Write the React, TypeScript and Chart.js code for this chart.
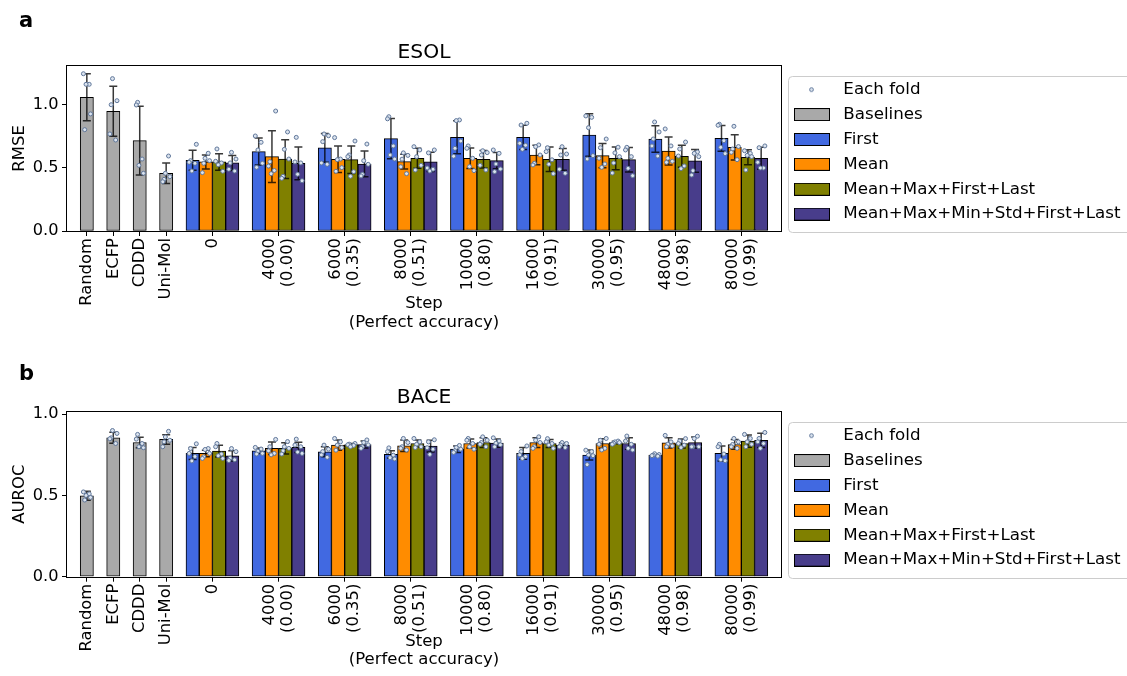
import React, { useEffect, useRef } from "react";
import { Chart, registerables } from "chart.js";

Chart.register(...registerables);

const FONT_FAMILY = "'DejaVu Sans', 'Liberation Sans', Arial, sans-serif";

// ---------------- categories / tick labels ----------------
const baselineNames = ["Random", "ECFP", "CDDD", "Uni-Mol"];
const stepLabels = ["0", "4000", "6000", "8000", "10000", "16000", "30000", "48000", "80000"];
const accuracyLabels = ["", "(0.00)", "(0.35)", "(0.51)", "(0.80)", "(0.91)", "(0.95)", "(0.98)", "(0.99)"];
const methodNames = ["First", "Mean", "Mean+Max+First+Last", "Mean+Max+Min+Std+First+Last"];
const yTickValues = [0, 0.5, 1.0];
const xTitleLines = ["Step", "(Perfect accuracy)"];

// ---------------- ESOL (RMSE) ----------------
const esolBaselineMean = [1.061, 0.95, 0.717, 0.458];
const esolBaselineSd = [0.187, 0.198, 0.272, 0.082];
const esolBaselineFolds = [
  [1.248, 1.164, 1.164, 0.929, 0.804],
  [1.209, 1.034, 1.002, 0.77, 0.722],
  [1.021, 1.0, 0.571, 0.521, 0.458],
  [0.595, 0.458, 0.431, 0.41, 0.391],
];

const esolFirstMean = [0.561, 0.63, 0.659, 0.733, 0.743, 0.743, 0.762, 0.73, 0.735];
const esolFirstSd = [0.079, 0.107, 0.114, 0.159, 0.131, 0.097, 0.168, 0.105, 0.102];
const esolFirstFolds = [
  [0.688, 0.558, 0.545, 0.537, 0.476],
  [0.754, 0.704, 0.643, 0.537, 0.505],
  [0.77, 0.756, 0.709, 0.54, 0.529],
  [0.907, 0.89, 0.675, 0.603, 0.571],
  [0.881, 0.876, 0.714, 0.656, 0.593],
  [0.855, 0.841, 0.696, 0.68, 0.648],
  [0.913, 0.902, 0.82, 0.598, 0.571],
  [0.865, 0.786, 0.73, 0.675, 0.595],
  [0.847, 0.839, 0.717, 0.664, 0.614],
];

const esolMeanMean = [0.548, 0.59, 0.569, 0.55, 0.577, 0.603, 0.598, 0.635, 0.664];
const esolMeanSd = [0.056, 0.206, 0.105, 0.059, 0.081, 0.077, 0.096, 0.111, 0.1];
const esolMeanFolds = [
  [0.617, 0.577, 0.558, 0.537, 0.463],
  [0.952, 0.55, 0.515, 0.48, 0.455],
  [0.741, 0.571, 0.566, 0.503, 0.474],
  [0.62, 0.6, 0.57, 0.51, 0.455],
  [0.675, 0.656, 0.577, 0.511, 0.479],
  [0.683, 0.669, 0.603, 0.537, 0.524],
  [0.73, 0.661, 0.577, 0.532, 0.505],
  [0.81, 0.675, 0.577, 0.553, 0.545],
  [0.831, 0.67, 0.651, 0.624, 0.566],
];

const esolMmflMean = [0.548, 0.571, 0.566, 0.577, 0.569, 0.569, 0.577, 0.593, 0.585];
const esolMmflSd = [0.065, 0.154, 0.109, 0.08, 0.069, 0.097, 0.09, 0.088, 0.06];
const esolMmflFolds = [
  [0.651, 0.553, 0.54, 0.525, 0.474],
  [0.786, 0.648, 0.571, 0.434, 0.418],
  [0.714, 0.603, 0.59, 0.471, 0.434],
  [0.669, 0.643, 0.59, 0.521, 0.484],
  [0.637, 0.622, 0.603, 0.521, 0.484],
  [0.661, 0.63, 0.565, 0.53, 0.455],
  [0.665, 0.62, 0.59, 0.54, 0.46],
  [0.706, 0.651, 0.595, 0.516, 0.495],
  [0.637, 0.616, 0.6, 0.59, 0.484],
];

const esolMmmsflMean = [0.54, 0.537, 0.532, 0.548, 0.558, 0.569, 0.566, 0.556, 0.577];
const esolMmmsflSd = [0.06, 0.13, 0.102, 0.076, 0.064, 0.086, 0.097, 0.09, 0.087];
const esolMmmsflFolds = [
  [0.624, 0.571, 0.54, 0.49, 0.476],
  [0.743, 0.548, 0.54, 0.45, 0.399],
  [0.69, 0.558, 0.529, 0.45, 0.437],
  [0.643, 0.62, 0.5, 0.49, 0.476],
  [0.643, 0.616, 0.532, 0.492, 0.471],
  [0.669, 0.611, 0.603, 0.49, 0.458],
  [0.664, 0.643, 0.59, 0.497, 0.439],
  [0.627, 0.616, 0.59, 0.479, 0.444],
  [0.675, 0.661, 0.545, 0.5, 0.5],
];

// ---------------- BACE (AUROC) ----------------
const baceBaselineMean = [0.498, 0.855, 0.826, 0.845];
const baceBaselineSd = [0.028, 0.034, 0.032, 0.029];
const baceBaselineFolds = [
  [0.522, 0.51, 0.5, 0.488, 0.472],
  [0.9, 0.882, 0.855, 0.849, 0.82],
  [0.876, 0.847, 0.82, 0.8, 0.794],
  [0.895, 0.86, 0.84, 0.83, 0.8],
];

const baceFirstMean = [0.759, 0.775, 0.769, 0.753, 0.785, 0.759, 0.749, 0.749, 0.759];
const baceFirstSd = [0.037, 0.017, 0.031, 0.022, 0.02, 0.036, 0.031, 0.006, 0.046];
const baceFirstFolds = [
  [0.818, 0.789, 0.759, 0.74, 0.713],
  [0.796, 0.786, 0.773, 0.759, 0.755],
  [0.81, 0.785, 0.77, 0.75, 0.735],
  [0.793, 0.77, 0.748, 0.733, 0.725],
  [0.808, 0.795, 0.785, 0.775, 0.765],
  [0.805, 0.77, 0.75, 0.74, 0.728],
  [0.779, 0.77, 0.749, 0.745, 0.69],
  [0.757, 0.752, 0.748, 0.745, 0.742],
  [0.815, 0.8, 0.755, 0.72, 0.714],
];

const baceMeanMean = [0.759, 0.791, 0.81, 0.806, 0.82, 0.826, 0.82, 0.824, 0.814];
const baceMeanSd = [0.02, 0.038, 0.031, 0.035, 0.028, 0.03, 0.03, 0.031, 0.03];
const baceMeanFolds = [
  [0.789, 0.783, 0.759, 0.738, 0.728],
  [0.845, 0.8, 0.775, 0.759, 0.75],
  [0.851, 0.83, 0.81, 0.795, 0.779],
  [0.851, 0.826, 0.8, 0.79, 0.78],
  [0.851, 0.84, 0.82, 0.8, 0.785],
  [0.861, 0.84, 0.826, 0.8, 0.79],
  [0.851, 0.84, 0.815, 0.79, 0.78],
  [0.87, 0.83, 0.816, 0.805, 0.8],
  [0.851, 0.83, 0.814, 0.8, 0.79],
];

const baceMmflMean = [0.773, 0.79, 0.814, 0.82, 0.826, 0.82, 0.826, 0.82, 0.835];
const baceMmflSd = [0.036, 0.034, 0.006, 0.022, 0.03, 0.025, 0.008, 0.028, 0.038];
const baceMmflFolds = [
  [0.82, 0.8, 0.755, 0.745, 0.728],
  [0.832, 0.8, 0.79, 0.775, 0.755],
  [0.82, 0.816, 0.812, 0.808, 0.8],
  [0.851, 0.83, 0.815, 0.8, 0.795],
  [0.861, 0.84, 0.826, 0.815, 0.8],
  [0.85, 0.83, 0.82, 0.81, 0.79],
  [0.835, 0.83, 0.826, 0.822, 0.815],
  [0.85, 0.835, 0.82, 0.81, 0.795],
  [0.876, 0.851, 0.83, 0.815, 0.8],
];

const baceMmmsflMean = [0.744, 0.796, 0.814, 0.804, 0.822, 0.81, 0.82, 0.826, 0.839];
const baceMmmsflSd = [0.031, 0.031, 0.022, 0.036, 0.025, 0.015, 0.035, 0.034, 0.044];
const baceMmmsflFolds = [
  [0.789, 0.77, 0.73, 0.715, 0.72],
  [0.847, 0.81, 0.8, 0.767, 0.759],
  [0.842, 0.826, 0.812, 0.8, 0.79],
  [0.843, 0.83, 0.794, 0.785, 0.753],
  [0.855, 0.835, 0.822, 0.812, 0.8],
  [0.826, 0.82, 0.81, 0.8, 0.795],
  [0.866, 0.835, 0.815, 0.79, 0.78],
  [0.865, 0.85, 0.8, 0.8, 0.8],
  [0.888, 0.851, 0.83, 0.82, 0.79],
];

// ---------------- styles / layout ----------------
const BASELINE_COLOR = "#a9a9a9";
const METHOD_COLORS = ["#4169e1", "#ff8c00", "#808000", "#483d8b"];
const FOLD_FILL = "#dbe3ee";
const FOLD_EDGE = "#60779a";
const METHOD_OFFSETS = [-0.75, -0.25, 0.25, 0.75];
const JITTER = [-0.13, 0.09, -0.03, 0.14, -0.08];
const X_MIN = -0.75;
const X_MAX = 26.25;
const groupCenter = (k: number) => 4.75 + 2.5 * k;

const LEGEND_FONT = 16.7;
const LEGEND_PAD = 8.2;

type PanelSpec = {
  letter: string;
  letterY: number;
  title: string;
  yLabel: string;
  yMax: number;
  padTop: number;
  padBottom: number;
  titlePadBottom: number;
  xAxisHeight: number;
  baseMean: number[];
  baseSd: number[];
  baseFolds: number[][];
  means: number[][];
  sds: number[][];
  folds: number[][][];
};

const ESOL_SPEC: PanelSpec = {
  letter: "a",
  letterY: 27,
  title: "ESOL",
  yLabel: "RMSE",
  yMax: 1.312,
  padTop: 40.3,
  padBottom: 6,
  titlePadBottom: 1,
  xAxisHeight: 101,
  baseMean: esolBaselineMean,
  baseSd: esolBaselineSd,
  baseFolds: esolBaselineFolds,
  means: [esolFirstMean, esolMeanMean, esolMmflMean, esolMmmsflMean],
  sds: [esolFirstSd, esolMeanSd, esolMmflSd, esolMmmsflSd],
  folds: [esolFirstFolds, esolMeanFolds, esolMmflFolds, esolMmmsflFolds],
};

const BACE_SPEC: PanelSpec = {
  letter: "b",
  letterY: 42,
  title: "BACE",
  yLabel: "AUROC",
  yMax: 1.016,
  padTop: 47.3,
  padBottom: 6.3,
  titlePadBottom: 2,
  xAxisHeight: 93,
  baseMean: baceBaselineMean,
  baseSd: baceBaselineSd,
  baseFolds: baceBaselineFolds,
  means: [baceFirstMean, baceMeanMean, baceMmflMean, baceMmmsflMean],
  sds: [baceFirstSd, baceMeanSd, baceMmflSd, baceMmmsflSd],
  folds: [baceFirstFolds, baceMeanFolds, baceMmflFolds, baceMmmsflFolds],
};

function makePatch(fill: string): HTMLCanvasElement {
  const c = document.createElement("canvas");
  c.width = 41;
  c.height = 13;
  const ctx = c.getContext("2d")!;
  ctx.fillStyle = fill;
  ctx.fillRect(0.5, 0.5, 35, 12);
  ctx.strokeStyle = "#000";
  ctx.lineWidth = 1;
  ctx.strokeRect(0.5, 0.5, 35, 12);
  return c;
}

function makeDot(): HTMLCanvasElement {
  const c = document.createElement("canvas");
  c.width = 41;
  c.height = 13;
  const ctx = c.getContext("2d")!;
  ctx.beginPath();
  ctx.arc(17.5, 6.5, 1.9, 0, Math.PI * 2);
  ctx.fillStyle = FOLD_FILL;
  ctx.fill();
  ctx.strokeStyle = FOLD_EDGE;
  ctx.lineWidth = 1;
  ctx.stroke();
  return c;
}

const errorBarPlugin = {
  id: "errorBars",
  afterDatasetDraw(chart: any, args: any) {
    const ds = chart.data.datasets[args.index];
    if (!ds.errors) return;
    const { ctx } = chart;
    const xs = chart.scales.x;
    const ys = chart.scales.y;
    ctx.save();
    ctx.strokeStyle = "rgba(0,0,0,0.78)";
    ctx.lineWidth = 1.5;
    const cap = 4;
    ds.data.forEach((p: any, i: number) => {
      const px = xs.getPixelForValue(p.x);
      const top = ys.getPixelForValue(p.y + ds.errors[i]);
      const bot = ys.getPixelForValue(p.y - ds.errors[i]);
      ctx.beginPath();
      ctx.moveTo(px, top);
      ctx.lineTo(px, bot);
      ctx.moveTo(px - cap, top);
      ctx.lineTo(px + cap, top);
      ctx.moveTo(px - cap, bot);
      ctx.lineTo(px + cap, bot);
      ctx.stroke();
    });
    ctx.restore();
  },
};

function makeDecorPlugin(spec: PanelSpec) {
  return {
    id: "decor",
    beforeDraw(chart: any) {
      const ca = chart.chartArea;
      const ctx = chart.ctx;
      // legend frame
      ctx.save();
      ctx.beginPath();
      ctx.roundRect(788.5, Math.round(ca.top + 10) + 0.5, 345, 156, 4);
      ctx.fillStyle = "rgba(255,255,255,0.8)";
      ctx.fill();
      ctx.strokeStyle = "#cccccc";
      ctx.lineWidth = 1;
      ctx.stroke();
      ctx.restore();
      const lg = chart.legend;
      if (lg) {
        lg.left = 794 - LEGEND_PAD;
        lg.top = ca.top + 24 - LEGEND_PAD - LEGEND_FONT / 2;
        lg.right = chart.width;
        lg.bottom = chart.height;
        lg.width = lg.right - lg.left;
        lg.height = lg.bottom - lg.top;
      }
    },
    afterDatasetsDraw(chart: any) {
      const ca = chart.chartArea;
      const ctx = chart.ctx;
      ctx.save();
      ctx.strokeStyle = "#000";
      ctx.lineWidth = 1;
      const l = Math.round(ca.left) - 0.5;
      const t = Math.round(ca.top) - 0.5;
      const r = Math.round(ca.right) + 0.5;
      const b = Math.round(ca.bottom) + 0.5;
      ctx.strokeRect(l, t, r - l, b - t);
      ctx.restore();
    },
    afterDraw(chart: any) {
      const ctx = chart.ctx;
      ctx.save();
      ctx.fillStyle = "#000";
      ctx.font = `bold 21px ${FONT_FAMILY}`;
      ctx.textBaseline = "alphabetic";
      ctx.textAlign = "left";
      ctx.fillText(spec.letter, 19, spec.letterY);
      ctx.restore();
    },
  };
}

function buildConfig(spec: PanelSpec): any {
  const xTickPositions: number[] = [];
  const xTickLines: string[][] = [];
  baselineNames.forEach((name, i) => {
    xTickPositions.push(i);
    xTickLines.push(["", name]);
  });
  stepLabels.forEach((s, k) => {
    xTickPositions.push(groupCenter(k));
    xTickLines.push(accuracyLabels[k] ? [s, "", accuracyLabels[k]] : ["", s]);
  });

  const foldPoints: { x: number; y: number }[] = [];
  let barIdx = 0;
  spec.baseFolds.forEach((vals, i) => {
    vals.forEach((v, j) => foldPoints.push({ x: i + JITTER[(j + 2 * barIdx) % 5], y: v }));
    barIdx++;
  });
  const methodDatasets = methodNames.map((name, m) => {
    const data = spec.means[m].map((v, k) => ({ x: groupCenter(k) + METHOD_OFFSETS[m], y: v }));
    spec.folds[m].forEach((vals, k) => {
      vals.forEach((v, j) =>
        foldPoints.push({ x: groupCenter(k) + METHOD_OFFSETS[m] + JITTER[(j + 2 * barIdx) % 5], y: v })
      );
      barIdx++;
    });
    return {
      type: "bar",
      label: name,
      data,
      errors: spec.sds[m],
      backgroundColor: METHOD_COLORS[m],
      borderColor: "#000",
      borderWidth: 1,
      borderSkipped: false,
      grouped: false,
      categoryPercentage: 1,
      barPercentage: 1,
    };
  });

  const datasets: any[] = [
    {
      type: "scatter",
      label: "Each fold",
      data: foldPoints,
      pointRadius: 2,
      pointBackgroundColor: FOLD_FILL,
      pointBorderColor: FOLD_EDGE,
      pointBorderWidth: 1,
      pointStyle: "circle",
    },
    {
      type: "bar",
      label: "Baselines",
      data: spec.baseMean.map((v, i) => ({ x: i, y: v })),
      errors: spec.baseSd,
      backgroundColor: BASELINE_COLOR,
      borderColor: "#000",
      borderWidth: 1,
      borderSkipped: false,
      grouped: false,
      categoryPercentage: 1,
      barPercentage: 1,
    },
    ...methodDatasets,
  ];

  const markers = [makeDot(), makePatch(BASELINE_COLOR), ...METHOD_COLORS.map((c) => makePatch(c))];

  return {
    type: "bar",
    data: { datasets },
    options: {
      responsive: false,
      animation: false,
      devicePixelRatio: 1,
      events: [],
      layout: { padding: { left: 0, right: 346, top: spec.padTop, bottom: spec.padBottom } },
      scales: {
        x: {
          type: "linear",
          min: X_MIN,
          max: X_MAX,
          offset: false,
          grid: {
            display: true,
            drawOnChartArea: false,
            drawTicks: true,
            tickLength: 5,
            color: "#000",
            lineWidth: 1,
            offset: false,
          },
          border: { display: false },
          afterBuildTicks: (s: any) => {
            s.ticks = xTickPositions.map((v) => ({ value: v }));
          },
          afterFit: (s: any) => {
            s.height = spec.xAxisHeight;
          },
          ticks: {
            autoSkip: false,
            minRotation: 90,
            maxRotation: 90,
            padding: 2,
            labelOffset: -9,
            color: "#000",
            font: { size: 16.4, lineHeight: "9px", family: FONT_FAMILY },
            callback: (_v: any, i: number) => xTickLines[i],
          },
          title: {
            display: true,
            text: xTitleLines,
            color: "#000",
            font: { size: 16.5, lineHeight: 1.15, family: FONT_FAMILY },
            padding: { top: 0, bottom: 0 },
          },
        },
        y: {
          type: "linear",
          min: 0,
          max: spec.yMax,
          grid: {
            display: true,
            drawOnChartArea: false,
            drawTicks: true,
            tickLength: 5,
            color: "#000",
            lineWidth: 1,
          },
          border: { display: false },
          afterBuildTicks: (s: any) => {
            s.ticks = yTickValues.map((v) => ({ value: v }));
          },
          afterFit: (s: any) => {
            s.width = 67;
          },
          ticks: {
            padding: 3.5,
            color: "#000",
            font: { size: 16.2, family: FONT_FAMILY },
            callback: (v: any) => Number(v).toFixed(1),
          },
          title: {
            display: true,
            text: spec.yLabel,
            color: "#000",
            font: { size: 16.5, family: FONT_FAMILY },
            padding: { top: 9.6, bottom: 0 },
          },
        },
      },
      plugins: {
        tooltip: { enabled: false },
        title: {
          display: true,
          text: spec.title,
          color: "#000",
          fullSize: false,
          font: { size: 20.3, weight: "normal", lineHeight: 1.2, family: FONT_FAMILY },
          padding: { top: 0, bottom: spec.titlePadBottom },
        },
        legend: {
          display: true,
          position: "chartArea",
          align: "start",
          labels: {
            usePointStyle: true,
            pointStyleWidth: 41,
            boxHeight: 13,
            padding: LEGEND_PAD,
            color: "#000",
            font: { size: LEGEND_FONT, family: FONT_FAMILY },
            generateLabels: (chart: any) =>
              chart.data.datasets.map((ds: any, i: number) => ({
                text: ds.label,
                pointStyle: markers[i],
                fillStyle: "rgba(0,0,0,0)",
                strokeStyle: "rgba(0,0,0,0)",
                lineWidth: 0,
                hidden: false,
                datasetIndex: i,
                fontColor: "#000",
              })),
          },
        },
      },
    },
    plugins: [errorBarPlugin, makeDecorPlugin(spec)],
  };
}

export default function App() {
  const refA = useRef<HTMLCanvasElement>(null);
  const refB = useRef<HTMLCanvasElement>(null);

  useEffect(() => {
    Chart.defaults.font.family = FONT_FAMILY;
    Chart.defaults.color = "#000";
    const charts: Chart[] = [];
    if (refA.current) charts.push(new Chart(refA.current, buildConfig(ESOL_SPEC)));
    if (refB.current) charts.push(new Chart(refB.current, buildConfig(BACE_SPEC)));
    return () => charts.forEach((c) => c.destroy());
  }, []);

  return (
    <div style={{ position: "fixed", left: 0, top: 0, width: 1127, height: 676, background: "#fff" }}>
      <canvas ref={refA} width={1127} height={338} style={{ display: "block", width: 1127, height: 338 }} />
      <canvas ref={refB} width={1127} height={338} style={{ display: "block", width: 1127, height: 338 }} />
    </div>
  );
}
